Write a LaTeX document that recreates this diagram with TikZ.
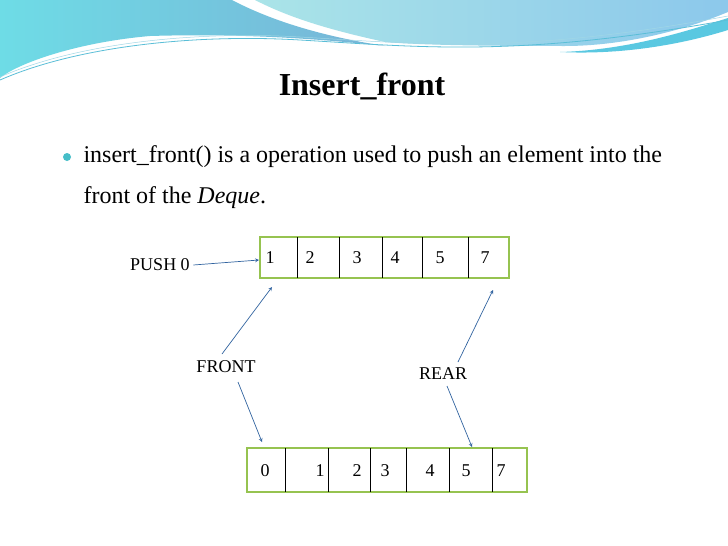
\documentclass[tikz,border=0pt]{standalone}
\usepackage{fontspec}
\setmainfont{Liberation Serif}
\definecolor{wA}{RGB}{110,220,230}
\definecolor{wB}{RGB}{120,180,215}
\definecolor{wC}{RGB}{170,228,232}
\definecolor{wD}{RGB}{140,200,235}
\definecolor{wE}{RGB}{90,200,225}
\definecolor{wF}{RGB}{90,190,215}
\definecolor{wG}{RGB}{160,215,230}
\definecolor{bul}{RGB}{70,190,200}
\definecolor{frm}{RGB}{150,195,80}
\definecolor{arc}{RGB}{50,100,160}
\begin{document}
\begin{tikzpicture}[x=1pt,y=-1pt,
  cellbox/.style={draw=black,line width=0.6pt},
  frame/.style={draw=frm,line width=1.6pt},
  num/.style={font=\fontsize{18}{21}\selectfont,anchor=center},
  lbl/.style={font=\fontsize{18}{21}\selectfont},
  arr/.style={-stealth,draw=arc,line width=0.7pt}]
\useasboundingbox (0,0) rectangle (728,546);
\fill[white] (0,0) rectangle (728,546);
% header waves
\shade[left color=wA,right color=wB]
 (0,0) -- (232,0) .. controls (270,20) and (320,36) .. (385,46)
 .. controls (330,40) and (250,33) .. (150,36) .. controls (80,42) and (20,62) .. (0,78) -- cycle;
\shade[left color=wC,right color=wD]
 (255,0) -- (728,0) -- (728,12) .. controls (680,32) and (620,46) .. (565,46)
 .. controls (480,46) and (420,45) .. (385,42) .. controls (330,30) and (290,18) .. (255,0) -- cycle;
\fill[wE] (560,52) .. controls (630,50) and (690,30) .. (728,18) -- (728,30) .. controls (680,45) and (620,55) .. (560,52) -- cycle;
\draw[wF,line width=0.8pt] (0,80) .. controls (80,45) and (200,34) .. (300,40) .. controls (420,47) and (520,58) .. (728,20);
\draw[wG,line width=0.5pt] (0,77) .. controls (80,42) and (200,31) .. (300,37) .. controls (420,44) and (520,55) .. (728,16);
% title and text
\node[font=\fontsize{32}{38}\selectfont\bfseries] (title) at (362,86) {Insert\_front};
\fill[bul] (67,157) circle (4);
\node[anchor=west,font=\fontsize{24}{29}\selectfont] (l1) at (80,157) {insert\_front() is a operation used to push an element into the};
\node[anchor=west,font=\fontsize{24}{29}\selectfont] (l2) at (80,198) {front of the \textit{Deque}.};
% top array
\draw[frame] (260,237) rectangle (509,278);
\foreach \x in {297,339,382,422,468} \draw[cellbox] (\x,237) -- (\x,278);
\foreach \x/\v/\n in {270/1/a1,310/2/a2,357/3/a3,395/4/a4,440/5/a5,485/7/a7}
  \node[num] (\n) at (\x,258) {\v};
% bottom array
\draw[frame] (247,448) rectangle (527,492);
\foreach \x in {285,328,370,406,449,492} \draw[cellbox] (\x,448) -- (\x,492);
\foreach \x/\v/\n in {265/0/b0,320/1/b1,357/2/b2,385/3/b3,430/4/b4,466/5/b5,501/7/b7}
  \node[num] (\n) at (\x,471) {\v};
% labels
\node[lbl] (push) at (160,265) {PUSH 0};
\node[lbl] (front) at (226,367) {FRONT};
\node[lbl] (rear) at (443,374) {REAR};
\coordinate (pe) at (259,260);
\coordinate (f1s) at (222,354); \coordinate (f1e) at (272,287);
\coordinate (f2s) at (238,382); \coordinate (f2e) at (262,442);
\coordinate (r1s) at (458,362); \coordinate (r1e) at (493,290);
\coordinate (r2s) at (447,386); \coordinate (r2e) at (472,447);
\draw[arr] (push.east) -- (pe);
\draw[arr] (f1s) -- (f1e);
\draw[arr] (f2s) -- (f2e);
\draw[arr] (r1s) -- (r1e);
\draw[arr] (r2s) -- (r2e);
\end{tikzpicture}
\end{document}
